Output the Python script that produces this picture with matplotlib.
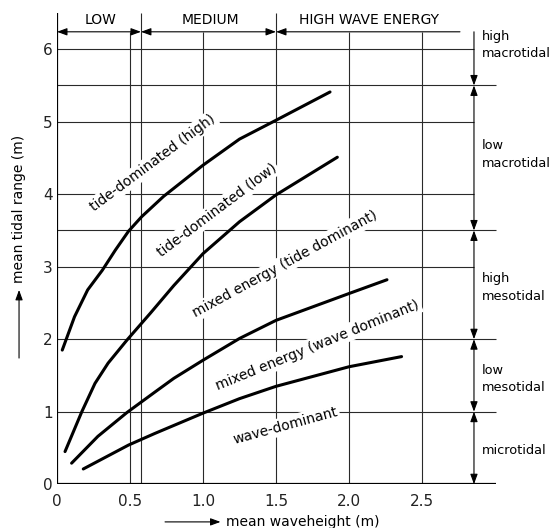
import matplotlib
matplotlib.use("Agg")
import matplotlib.pyplot as plt

plt.rcParams["font.family"] = ["DejaVu Sans"]

# curves (mean waveheight m, mean tidal range m)
tide_high_x = [0.036, 0.12, 0.21, 0.31, 0.40, 0.49, 0.58, 0.73, 1.0, 1.25, 1.5, 1.87]
tide_high_y = [1.85, 2.31, 2.68, 2.95, 3.23, 3.49, 3.69, 3.97, 4.40, 4.76, 5.02, 5.41]
tide_low_x = [0.055, 0.17, 0.26, 0.35, 0.48, 0.64, 0.8, 1.0, 1.25, 1.5, 1.92]
tide_low_y = [0.45, 1.0, 1.39, 1.67, 1.99, 2.36, 2.74, 3.18, 3.62, 3.99, 4.51]
mixed_tide_x = [0.1, 0.28, 0.48, 0.67, 0.8, 1.0, 1.25, 1.5, 2.0, 2.26]
mixed_tide_y = [0.29, 0.66, 0.99, 1.27, 1.46, 1.71, 2.01, 2.26, 2.63, 2.82]
wave_dom_x = [0.18, 0.49, 0.67, 1.0, 1.25, 1.5, 2.0, 2.36]
wave_dom_y = [0.21, 0.54, 0.70, 0.98, 1.18, 1.35, 1.62, 1.76]

curve_labels = ["tide-dominated (high)", "tide-dominated (low)",
                "mixed energy (tide dominant)", "mixed energy (wave dominant)",
                "wave-dominant"]

x_ticks = [0, 0.5, 1.0, 1.5, 2.0, 2.5]
x_tick_labels = ["0", "0.5", "1.0", "1.5", "2.0", "2.5"]
y_ticks = [0, 1, 2, 3, 4, 5, 6]

# wave energy classes along the top
energy_names = ["LOW", "MEDIUM", "HIGH WAVE ENERGY"]
energy_bounds = [0, 0.575, 1.5]

# tidal classes on the right
tidal_names = ["microtidal", "low\nmesotidal", "high\nmesotidal",
               "low\nmacrotidal", "high\nmacrotidal"]
tidal_bounds = [0, 1, 2, 3.5, 5.5]

fig = plt.figure(figsize=(5.54, 5.28), dpi=100)
ax = fig.add_axes([57 / 554, 43.8 / 528, 497 / 554, 484.2 / 528])
ax.set_xlim(0, 497 / 146)
ax.set_ylim(0, 484.2 / 72.5)
for sp in ax.spines.values():
    sp.set_visible(False)

gc = "#2a2a2a"
top_arrow = 6.24
top_full = 6.5
right_x = 2.856
right_end = 3.01

# grid lines
for y in y_ticks[1:] + [3.5, 5.5]:
    end = right_end if y in tidal_bounds else right_x
    ax.hlines(y, 0, end, color=gc, lw=0.8, zorder=1)
for x in x_ticks[1:]:
    top = top_full if x in energy_bounds else top_arrow
    ax.vlines(x, 0, top, color=gc, lw=0.8, zorder=1)
ax.vlines(energy_bounds[1], 0, top_full, color=gc, lw=0.8, zorder=1)
ax.vlines(0, 0, top_full, color="black", lw=1.6, zorder=2)
ax.hlines(0, 0, right_end, color="black", lw=1.6, zorder=2)

# curves
lw = 2.2
for xs, ys in [(tide_high_x, tide_high_y), (tide_low_x, tide_low_y),
               (mixed_tide_x, mixed_tide_y), (wave_dom_x, wave_dom_y)]:
    ax.plot(xs, ys, color="black", lw=lw, zorder=3,
            solid_joinstyle="round", solid_capstyle="round")

# curve labels
label_pos = [(0.654, 4.43, 36.7), (1.094, 3.78, 36.9), (1.562, 3.04, 28.6),
             (1.784, 1.92, 22.1), (1.562, 0.805, 15.3)]
for name, (x, y, r) in zip(curve_labels, label_pos):
    ax.text(x, y, name, rotation=r, ha="center", va="center", fontsize=10,
            rotation_mode="anchor",
            bbox=dict(fc="white", ec="none", pad=1.5), zorder=2)

arrow_kw = dict(arrowstyle="<|-|>,head_length=0.6,head_width=0.22",
                color="black", lw=0.8, shrinkA=0, shrinkB=0)
one_kw = dict(arrow_kw, arrowstyle="-|>,head_length=0.6,head_width=0.22")

# top arrows
ax.annotate("", xy=(energy_bounds[0], top_arrow), xytext=(energy_bounds[1], top_arrow),
            arrowprops=arrow_kw, annotation_clip=False)
ax.annotate("", xy=(energy_bounds[1], top_arrow), xytext=(energy_bounds[2], top_arrow),
            arrowprops=arrow_kw, annotation_clip=False)
ax.annotate("", xy=(energy_bounds[2], top_arrow), xytext=(2.76, top_arrow),
            arrowprops=one_kw, annotation_clip=False)
energy_x = [0.3, 1.05, 2.14]
for name, x in zip(energy_names, energy_x):
    ax.text(x, 6.40, name, ha="center", va="center", fontsize=10)

# right arrows
bounds = tidal_bounds
for lo, hi in zip(bounds[:-1], bounds[1:]):
    ax.annotate("", xy=(right_x, lo), xytext=(right_x, hi),
                arrowprops=arrow_kw, annotation_clip=False)
ax.annotate("", xy=(right_x, bounds[-1]), xytext=(right_x, top_arrow),
            arrowprops=one_kw, annotation_clip=False)
tidal_y = [0.47, 1.45, 2.71, 4.55, 6.06]
for name, y in zip(tidal_names, tidal_y):
    ax.text(2.91, y, name, ha="left", va="center", fontsize=9.3,
            linespacing=1.45, clip_on=False)

# ticks
ax.set_xticks(x_ticks)
ax.set_xticklabels(x_tick_labels)
ax.set_yticks(y_ticks)
ax.tick_params(length=0, labelsize=11, colors="#222222")
ax.tick_params(axis="x", pad=7)
ax.tick_params(axis="y", pad=3)

# axis labels with arrows
ax.annotate("", xy=(1.12, -0.52), xytext=(0.74, -0.52),
            arrowprops=one_kw, annotation_clip=False)
ax.text(1.16, -0.52, "mean waveheight (m)", ha="left", va="center", fontsize=10)
ax.annotate("", xy=(-0.26, 2.68), xytext=(-0.26, 1.74),
            arrowprops=one_kw, annotation_clip=False)
ax.text(-0.26, 2.77, "mean tidal range (m)", rotation=90, ha="center",
        va="bottom", fontsize=10)

fig.savefig("out.png", dpi=100)
